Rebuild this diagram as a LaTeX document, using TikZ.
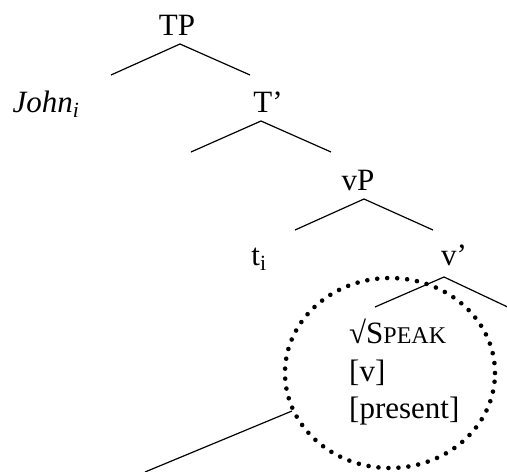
\documentclass[tikz,border=0pt]{standalone}
\usepackage{fontspec}
\setmainfont{Liberation Serif}
\usetikzlibrary{shapes.geometric}
\begin{document}
\begin{tikzpicture}[x=1pt,y=-1pt,
  lbl/.style={inner sep=0pt,anchor=base,font=\fontsize{31}{37}\selectfont},
  branch/.style={line width=1.2pt},
  circ/.style={line width=4.6pt,dash pattern=on 0pt off 10pt,line cap=round}]
\useasboundingbox (0,0) rectangle (507,472);
% labels
\node[lbl] (TP) at (177,35) {TP};
\node[lbl] (John) at (46,112) {\itshape John\textsubscript{i}};
\node[lbl] (Tbar) at (268,112) {T’};
\node[lbl] (vP) at (358,190) {vP};
\node[lbl] (ti) at (259,265) {t\textsubscript{i}};
\node[lbl] (vbar) at (454,265) {v’};
% branches
\coordinate (tpA) at (180,44);
\coordinate (tpL) at (111,75);
\coordinate (tpR) at (250,75);
\draw[branch] (tpL) -- (tpA) -- (tpR);
\coordinate (tA) at (261,121);
\coordinate (tL) at (191,152);
\coordinate (tR) at (331,152);
\draw[branch] (tL) -- (tA) -- (tR);
\coordinate (vA) at (364,199);
\coordinate (vL) at (295,230);
\coordinate (vR) at (433,230);
\draw[branch] (vL) -- (vA) -- (vR);
\coordinate (vbA) at (444,277);
\coordinate (vbL) at (375,307);
\coordinate (vbR) at (514,310);
\draw[branch] (vbL) -- (vbA) -- (vbR);
% circled content
\node[draw,circ,ellipse,minimum width=210pt,minimum height=190pt,inner sep=0pt] (circle) at (390,373) {};
\node[lbl,anchor=base west] (root) at (349,343) {√S{\fontsize{24}{28}\selectfont PEAK}};
\node[lbl,anchor=base west] (cat) at (349,381) {[v]};
\node[lbl,anchor=base west] (tense) at (349,418) {[present]};
% line out of circle
\coordinate (lineEnd) at (145,472);
\coordinate (lineStart) at (292,411);
\draw[branch] (lineStart) -- (lineEnd);
\end{tikzpicture}
\end{document}
